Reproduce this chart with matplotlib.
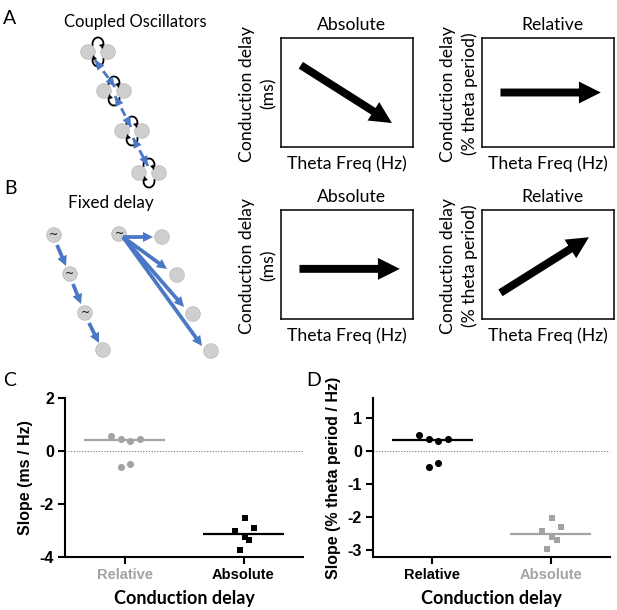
import numpy as np
import matplotlib.pyplot as plt
from matplotlib.patches import Circle, Arc, FancyArrowPatch

W, H = 617, 610
CAL = ['Lato', 'DejaVu Sans']
ARIAL = ['Liberation Sans', 'DejaVu Sans']
BLUE = '#4a78c6'
GREY = '#a3a3a3'
CGREY = '#cfcfcf'

# ---- panel C / D data ----
groups = ['Relative', 'Absolute']
c_rel = [0.58, 0.44, 0.38, 0.45, -0.61, -0.48]
c_abs = [-2.52, -3.02, -2.89, -3.25, -3.37, -3.72]
c_med = [0.40, -3.13]
d_rel = [0.48, 0.35, 0.31, 0.36, -0.47, -0.37]
d_abs = [-2.01, -2.41, -2.30, -2.60, -2.70, -2.97]
d_med = [0.33, -2.50]
jit_rel = [-0.11, -0.03, 0.05, 0.13, -0.03, 0.05]
jit_abs = [0.01, -0.07, 0.09, 0.01, 0.05, -0.03]

# ---- schematic arrows in the small boxes (start, end in box fraction) ----
arrows_top = {
    'A_abs': ((0.15, 0.75), (0.84, 0.22)),
    'A_rel': ((0.14, 0.50), (0.90, 0.50)),
    'B_abs': ((0.14, 0.46), (0.90, 0.46)),
    'B_rel': ((0.14, 0.24), (0.81, 0.75)),
}

# ---- oscillator diagram positions (pixels) ----
pair_centres = [(98, 52), (114, 91), (132, 131), (149, 173)]
dashed_links = [((95, 60), (115, 87)), ((115, 96), (131, 127)), ((133, 138), (148, 166))]
chain_nodes = [(54, 235), (70, 274), (85, 313), (103, 350)]
chain_links = [((57, 245), (66, 266)), ((73, 284), (81, 304)), ((89, 323), (99, 343))]
fan_src = (119, 234)
fan_targets = [(162, 237), (177, 275), (193, 314), (211, 351)]
fan_ends = [(153, 237), (167, 269), (184, 307), (202, 346)]

fig = plt.figure(figsize=(W / 100, H / 100), dpi=100)


def px_axes(x0, y0, x1, y1):
    return fig.add_axes([x0 / W, 1 - y1 / H, (x1 - x0) / W, (y1 - y0) / H])


def head(ax, p0, p1, color, tail, hw, hl, ms, z=5):
    ax.add_patch(FancyArrowPatch(p0, p1, arrowstyle=f'simple,tail_width={tail},'
                                 f'head_width={hw},head_length={hl}',
                                 mutation_scale=ms, color=color, lw=0,
                                 shrinkA=0, shrinkB=0, zorder=z))


ov = fig.add_axes([0, 0, 1, 1])
ov.set_xlim(0, W)
ov.set_ylim(H, 0)
ov.axis('off')

# panel letters
for lab, x, y in [('A', 10, 18), ('B', 10, 188), ('C', 10, 380), ('D', 314, 380)]:
    ov.text(x, y, lab, family=CAL, fontsize=14, ha='center', va='center')

ov.text(135, 22, 'Coupled Oscillators', family=CAL, fontsize=12, ha='center', va='center')
ov.text(111, 203, 'Fixed delay', family=CAL, fontsize=12.3, ha='center', va='center')

# coupled oscillators
r = 7.3
for cx, cy in pair_centres:
    for dx in (-10, 10):
        ov.add_patch(Circle((cx + dx, cy), r, fc=CGREY, ec='#bdbdbd', lw=0.6, zorder=3))
    ov.add_patch(Arc((cx, cy - 8), 11, 13, theta1=160, theta2=380, lw=1.3,
                     color='black', zorder=2))
    ov.add_patch(Arc((cx, cy + 8), 11, 13, theta1=-20, theta2=200, lw=1.3,
                     color='black', zorder=2))
    head(ov, (cx + 4, cy - 6), (cx + 5, cy - 3), 'black', 0.05, 0.6, 0.6, 6)
    head(ov, (cx - 4, cy + 6), (cx - 5, cy + 3), 'black', 0.05, 0.6, 0.6, 6)
for (x0, y0), (x1, y1) in dashed_links:
    ov.plot([x0, x1], [y0, y1], color=BLUE, lw=2, ls=(0, (3, 2)), zorder=4)
    for (a, b), (c, d) in [((x0, y0), (x1, y1)), ((x1, y1), (x0, y0))]:
        head(ov, (c - 0.25 * (c - a), d - 0.25 * (d - b)), (c, d), BLUE, 0.01, 0.7, 0.8, 9)

# fixed delay
for i, (cx, cy) in enumerate(chain_nodes):
    ov.add_patch(Circle((cx, cy), r, fc=CGREY, ec='#bdbdbd', lw=0.6, zorder=3))
    if i < 3:
        ov.text(cx, cy, '~', fontsize=8, ha='center', va='center', zorder=4)
for p0, p1 in chain_links:
    head(ov, p0, p1, BLUE, 0.3, 0.8, 0.8, 9)
ov.add_patch(Circle(fan_src, r, fc=CGREY, ec='#bdbdbd', lw=0.6, zorder=3))
ov.text(fan_src[0], fan_src[1], '~', fontsize=8, ha='center', va='center', zorder=4)
for (tx, ty), (ex, ey) in zip(fan_targets, fan_ends):
    ov.add_patch(Circle((tx, ty), r, fc=CGREY, ec='#bdbdbd', lw=0.6, zorder=3))
    head(ov, (fan_src[0] + 4, fan_src[1] + 3), (ex, ey), BLUE, 0.3, 0.8, 0.8, 9)

# schematic boxes
boxes = {
    'A_abs': (281, 38, 413, 147, 'Absolute', '(ms)', 247, 269),
    'A_rel': (482, 38, 614, 147, 'Relative', '(% theta period)', 448, 470),
    'B_abs': (281, 210, 413, 319, 'Absolute', '(ms)', 247, 269),
    'B_rel': (482, 210, 614, 319, 'Relative', '(% theta period)', 448, 470),
}
for key, (x0, y0, x1, y1, title, unit, lx1, lx2) in boxes.items():
    ax = px_axes(x0, y0, x1, y1)
    ax.set_xlim(0, 1)
    ax.set_ylim(0, 1)
    ax.set_xticks([])
    ax.set_yticks([])
    for s in ax.spines.values():
        s.set_linewidth(1.1)
    (sx, sy), (ex, ey) = arrows_top[key]
    ax.add_patch(FancyArrowPatch((sx, sy), (ex, ey),
                                 arrowstyle='simple,tail_width=0.38,head_width=1.05,head_length=1.05',
                                 mutation_scale=15, color='black', lw=0,
                                 shrinkA=0, shrinkB=0))
    cx, cy = (x0 + x1) / 2, (y0 + y1) / 2
    ov.text(cx + 4, y0 - 13, title, family=CAL, fontsize=12.7, ha='center', va='center')
    ov.text(cx, y1 + 17, 'Theta Freq (Hz)', family=CAL, fontsize=12.7, ha='center', va='center')
    ov.text(lx1, cy + 1, 'Conduction delay', family=CAL, fontsize=12.7, rotation=90,
            ha='center', va='center')
    ov.text(lx2, cy + 1, unit, family=CAL, fontsize=12.7, rotation=90, ha='center', va='center')


def dot_panel(ax, rel, ab, med, ylim, yticks, ylabel, rel_col, abs_col):
    x = np.arange(2)
    ax.scatter(x[0] + np.array(jit_rel), rel, s=26, color=rel_col, marker='o', zorder=3, lw=0)
    ax.scatter(x[1] + np.array(jit_abs), ab, s=24, color=abs_col, marker='s', zorder=3, lw=0)
    ax.hlines(med[0], x[0] - 0.34, x[0] + 0.34, color=rel_col, lw=1.6)
    ax.hlines(med[1], x[1] - 0.34, x[1] + 0.34, color=abs_col, lw=1.6)
    ax.axhline(0, color='#777777', lw=0.8, ls=(0, (1, 1.5)), zorder=1)
    ax.set_xlim(-0.5, 1.5)
    ax.set_ylim(*ylim)
    ax.set_yticks(yticks)
    ax.set_yticklabels([str(t) for t in yticks], family=ARIAL, fontweight='bold', fontsize=11.5)
    ax.set_xticks(x)
    ax.set_xticklabels(groups, family=ARIAL, fontweight='bold', fontsize=10.5)
    ax.get_xticklabels()[0].set_color(rel_col)
    ax.get_xticklabels()[1].set_color(abs_col)
    ax.set_facecolor('none')
    for s in ['top', 'right']:
        ax.spines[s].set_visible(False)
    for s in ['left', 'bottom']:
        ax.spines[s].set_linewidth(1.5)
    ax.tick_params(width=1.5, length=5, pad=3)
    ax.set_ylabel(ylabel, family=ARIAL, fontweight='bold', fontsize=11.5, labelpad=5)
    ax.set_xlabel('Conduction delay', family=CAL, fontweight='bold', fontsize=13, labelpad=6)


axC = px_axes(65, 398, 303, 557)
dot_panel(axC, c_rel, c_abs, c_med, (-4, 2), [2, 0, -2, -4], 'Slope (ms / Hz)', GREY, 'black')

axD = px_axes(373, 398, 610, 557)
dot_panel(axD, d_rel, d_abs, d_med, (-3.2, 1.6), [1, 0, -1, -2, -3],
          'Slope (% theta period / Hz)', 'black', GREY)

fig.savefig('out.png', dpi=100)
